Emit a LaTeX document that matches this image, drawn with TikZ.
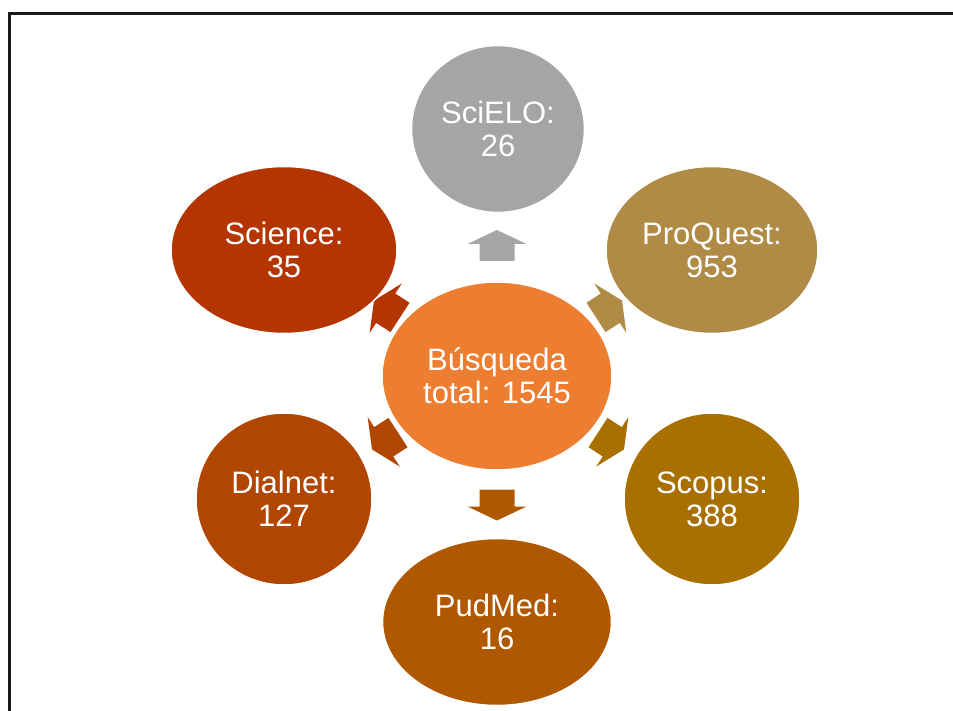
\documentclass[tikz,border=0pt]{standalone}
\usepackage{fontspec}
\setmainfont{Liberation Sans}
\usetikzlibrary{shapes.geometric}
\definecolor{cCenter}{HTML}{ED7D31}
\definecolor{cScielo}{HTML}{A5A5A5}
\definecolor{cProquest}{HTML}{B08B45}
\definecolor{cScopus}{HTML}{A97000}
\definecolor{cPudmed}{HTML}{B05800}
\definecolor{cDialnet}{HTML}{B04600}
\definecolor{cScience}{HTML}{B43500}
\tikzset{
  bubble/.style={ellipse, inner sep=0pt, draw=white, line width=1.5pt, text=white,
    align=center, font=\fontsize{31}{34}\selectfont},
  blockarrow/.pic={
    \fill[pic actions] (0,-15.5) -- (29.5,-1.5) -- (17.5,-1.5) -- (17.5,15.5)
      -- (-17.5,15.5) -- (-17.5,-1.5) -- (-29.5,-1.5) -- cycle;
  }
}
\begin{document}
\begin{tikzpicture}[x=1pt,y=-1pt]
\useasboundingbox (0,0) rectangle (953,711);
\coordinate (f1) at (9,711);
\coordinate (f2) at (9,14);
\coordinate (f3) at (953,14);
\draw[line width=3pt, color=black!90] (f1) -- (f2) -- (f3);
% arrows
\pic[fill=cScielo] at (497,245.5) {blockarrow};
\pic[fill=cPudmed, rotate=180] at (497,505) {blockarrow};
\pic[fill=cProquest, rotate=-57] at (609,309) {blockarrow};
\pic[fill=cScience, rotate=57] at (387,309) {blockarrow};
\pic[fill=cScopus, rotate=-123] at (611,441) {blockarrow};
\pic[fill=cDialnet, rotate=123] at (385,441) {blockarrow};
% nodes
\node[bubble, fill=cCenter, minimum width=230pt, minimum height=188pt] (center) at (497,376) {Búsqueda\\[-1pt]total: 1545};
\node[bubble, fill=cScielo, minimum width=173pt, minimum height=167pt] (scielo) at (498,129) {SciELO:\\[-1pt]26};
\node[bubble, fill=cProquest, minimum width=212pt, minimum height=167pt] (proquest) at (712,250) {ProQuest:\\[-1pt]953};
\node[bubble, fill=cScopus, minimum width=176pt, minimum height=172pt] (scopus) at (712,499) {Scopus:\\[-1pt]388};
\node[bubble, fill=cPudmed, minimum width=229pt, minimum height=167pt] (pudmed) at (497,622) {PudMed:\\[-1pt]16};
\node[bubble, fill=cDialnet, minimum width=176pt, minimum height=172pt] (dialnet) at (284,499) {Dialnet:\\[-1pt]127};
\node[bubble, fill=cScience, minimum width=226pt, minimum height=167pt] (science) at (284,250) {Science:\\[-1pt]35};
\end{tikzpicture}
\end{document}
